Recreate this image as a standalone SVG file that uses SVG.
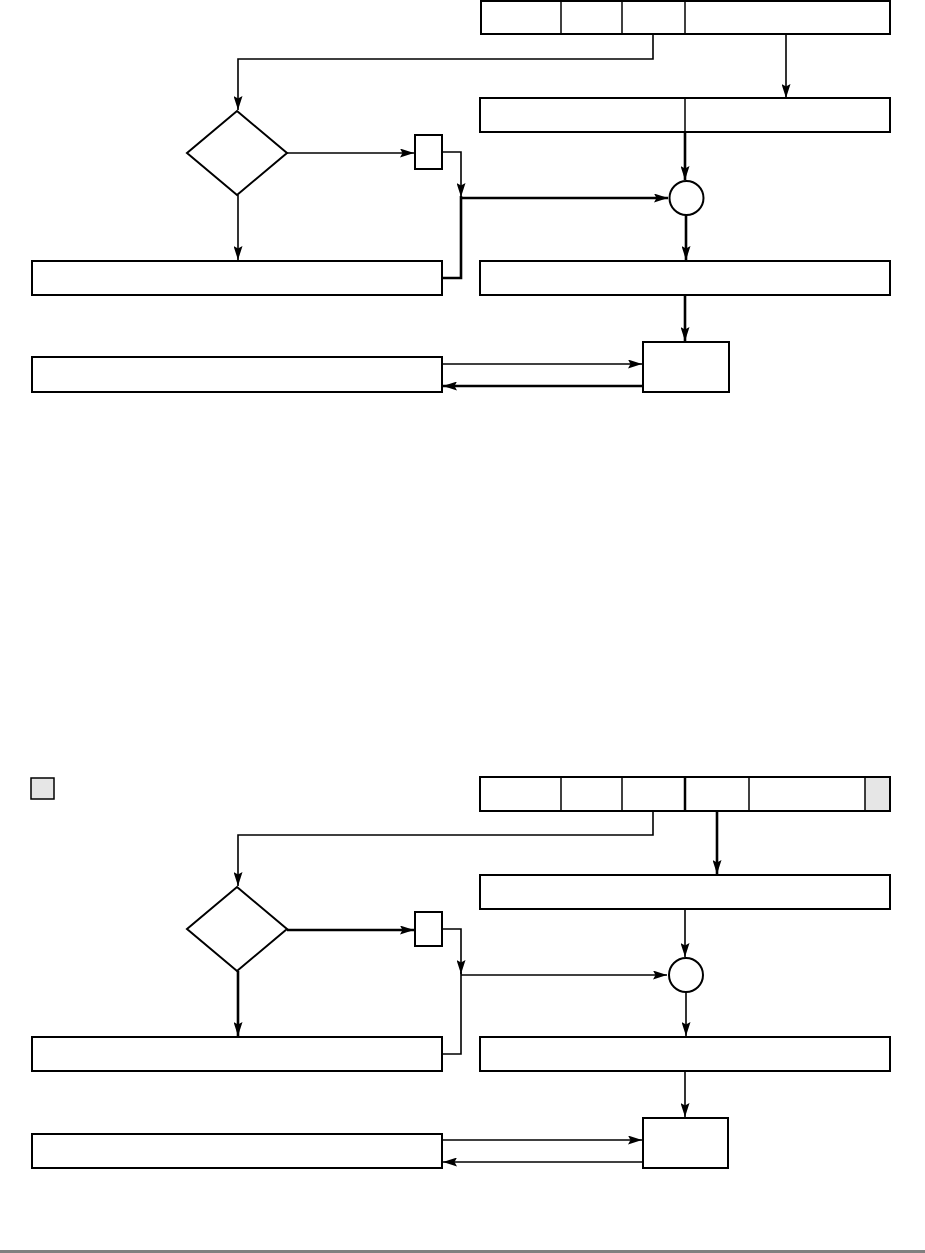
<svg xmlns="http://www.w3.org/2000/svg" width="925" height="1253" viewBox="0 0 925 1253">
<defs>
<marker id="ah" viewBox="0 0 14 9" refX="14" refY="4.5" markerWidth="14" markerHeight="9" markerUnits="userSpaceOnUse" orient="auto">
<path d="M0,0 L14,4.5 L0,9 L2.5,4.5 Z" fill="#000"/>
</marker>
<style>
.box{fill:#fff;stroke:#000;stroke-width:2}
.gray{fill:#e6e6e6;stroke:#000;stroke-width:1.5}
.div{stroke:#000;stroke-width:1.5}
.thin{fill:none;stroke:#000;stroke-width:1.6}
.thick{fill:none;stroke:#000;stroke-width:2.6}
</style>
</defs>
<rect width="925" height="1253" fill="#fff"/>

<g id="connectors">
<!-- top -->
<path class="thin" d="M653,34 V59 H238 V110" marker-end="url(#ah)"/>
<path class="thin" d="M786,34 V98" marker-end="url(#ah)"/>
<path class="thick" d="M685,132 V180" marker-end="url(#ah)"/>
<path class="thin" d="M287,153 H414" marker-end="url(#ah)"/>
<path class="thin" d="M442,152 H461 V197" marker-end="url(#ah)"/>
<path class="thick" d="M461,196 V278 H442"/>
<path class="thick" d="M461,198 H668" marker-end="url(#ah)"/>
<path class="thin" d="M238,195 V260" marker-end="url(#ah)"/>
<path class="thick" d="M686,215 V260" marker-end="url(#ah)"/>
<path class="thick" d="M685,295 V341" marker-end="url(#ah)"/>
<path class="thin" d="M442,364 H642" marker-end="url(#ah)"/>
<path class="thick" d="M643,386 H443" marker-end="url(#ah)"/>
<!-- bottom -->
<path class="thin" d="M653,811 V835 H238 V886" marker-end="url(#ah)"/>
<path class="thick" d="M717,811 V874" marker-end="url(#ah)"/>
<path class="thick" d="M287,930 H414" marker-end="url(#ah)"/>
<path class="thin" d="M442,929 H461 V974" marker-end="url(#ah)"/>
<path class="thin" d="M461,972 V1054 H442"/>
<path class="thin" d="M461,975 H667" marker-end="url(#ah)"/>
<path class="thin" d="M685,909 V957" marker-end="url(#ah)"/>
<path class="thick" d="M238,971 V1036" marker-end="url(#ah)"/>
<path class="thin" d="M686,992 V1036" marker-end="url(#ah)"/>
<path class="thin" d="M685,1071 V1117" marker-end="url(#ah)"/>
<path class="thin" d="M442,1140 H642" marker-end="url(#ah)"/>
<path class="thin" d="M643,1162 H443" marker-end="url(#ah)"/>
</g>

<!-- top section nodes -->
<g id="reg1">
<rect class="box" x="481" y="1" width="409" height="33"/>
<line class="div" x1="561" y1="1" x2="561" y2="34"/>
<line class="div" x1="622" y1="1" x2="622" y2="34"/>
<line class="div" x1="685" y1="1" x2="685" y2="34"/>
</g>
<g id="reg2">
<rect class="box" x="480" y="98" width="410" height="34"/>
<line class="div" x1="685" y1="98" x2="685" y2="132"/>
</g>
<g id="dec1"><polygon class="box" points="237,111 287,153 237,195 187,153"/></g>
<g id="sb1"><rect class="box" x="415" y="135" width="27" height="34"/></g>
<g id="add1"><circle class="box" cx="686.5" cy="198" r="17"/></g>
<g id="lbox1"><rect class="box" x="32" y="261" width="410" height="34"/></g>
<g id="rbox1"><rect class="box" x="480" y="261" width="410" height="34"/></g>
<g id="lbox2"><rect class="box" x="32" y="357" width="410" height="35"/></g>
<g id="mem1"><rect class="box" x="643" y="342" width="86" height="50"/></g>

<!-- bottom section nodes -->
<g id="legend"><rect class="gray" x="31" y="778" width="23" height="21"/></g>
<g id="reg3">
<rect class="box" x="480" y="777" width="410" height="34"/>
<rect x="865" y="778" width="24" height="32" fill="#e6e6e6"/>
<line class="div" x1="865" y1="777" x2="865" y2="811"/>
<line class="div" x1="561" y1="777" x2="561" y2="811"/>
<line class="div" x1="622" y1="777" x2="622" y2="811"/>
<line x1="685" y1="777" x2="685" y2="811" stroke="#000" stroke-width="2.5"/>
<line class="div" x1="749" y1="777" x2="749" y2="811"/>
<rect x="480" y="777" width="410" height="34" fill="none" stroke="#000" stroke-width="2"/>
</g>
<g id="rbox3"><rect class="box" x="480" y="875" width="410" height="34"/></g>
<g id="dec2"><polygon class="box" points="237,887 287,929 237,971 187,929"/></g>
<g id="sb2"><rect class="box" x="415" y="912" width="27" height="34"/></g>
<g id="add2"><circle class="box" cx="686" cy="975" r="17"/></g>
<g id="lbox3"><rect class="box" x="32" y="1037" width="410" height="34"/></g>
<g id="rbox4"><rect class="box" x="480" y="1037" width="410" height="34"/></g>
<g id="lbox4"><rect class="box" x="32" y="1134" width="410" height="34"/></g>
<g id="mem2"><rect class="box" x="643" y="1118" width="85" height="50"/></g>

<rect x="0" y="1250" width="925" height="3" fill="#808080"/>
</svg>
